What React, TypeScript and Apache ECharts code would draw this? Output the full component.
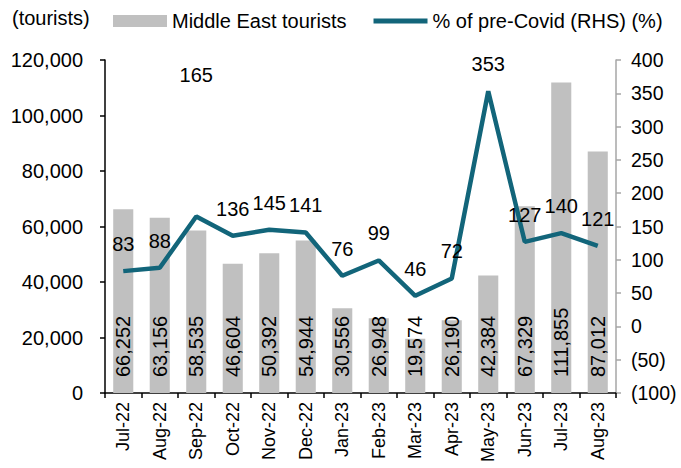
import React, { useEffect, useRef } from "react";
import * as echarts from "echarts";

const categories = ["Jul-22", "Aug-22", "Sep-22", "Oct-22", "Nov-22", "Dec-22", "Jan-23", "Feb-23", "Mar-23", "Apr-23", "May-23", "Jun-23", "Jul-23", "Aug-23"];
const tourists = [66252, 63156, 58535, 46604, 50392, 54944, 30556, 26948, 19574, 26190, 42384, 67329, 111855, 87012];
const pctPreCovid = [83, 88, 165, 136, 145, 141, 76, 99, 46, 72, 353, 127, 140, 121];

const FONT = "'Liberation Sans', Arial, sans-serif";
const LINE_COLOR = "#12657A";

export default function App() {
  const ref = useRef<HTMLDivElement>(null);
  useEffect(() => {
    document.body.style.margin = "0";
    if (!ref.current) return;
    const chart = echarts.init(ref.current, null, { renderer: "svg" });
    const fmtNum = (v: number) => v.toLocaleString("en-US");
    const fmtPct = (v: number) => (v < 0 ? "(" + Math.abs(v) + ")" : String(v));
    chart.setOption({
      animation: false,
      textStyle: { fontFamily: FONT },
      legend: {
        top: 6,
        left: 108,
        itemGap: 27,
        itemWidth: 54,
        itemHeight: 12,
        textStyle: { fontFamily: FONT, fontSize: 20, color: "#000" },
        data: [
          { name: "Middle East tourists", icon: "rect" },
          { name: "% of pre-Covid (RHS) (%)", icon: "path://M0,0h54v5h-54z", itemStyle: { color: LINE_COLOR } },
        ],
      },
      graphic: [
        {
          type: "text",
          left: 12,
          top: 8,
          style: { text: "(tourists)", font: `20px ${FONT}`, fill: "#000" },
        },
      ],
      grid: { left: 105, right: 65, top: 60, bottom: 75, containLabel: false },
      xAxis: {
        type: "category",
        data: categories,
        axisLine: { lineStyle: { color: "#000", width: 1.5 } },
        axisTick: { show: true, alignWithLabel: false, length: 5, lineStyle: { color: "#000", width: 1.5 } },
        axisLabel: { rotate: 90, fontSize: 18, color: "#000", fontFamily: FONT, margin: 9 },
      },
      yAxis: [
        {
          type: "value",
          min: 0,
          max: 120000,
          interval: 20000,
          splitLine: { show: false },
          axisLine: { show: true, lineStyle: { color: "#000", width: 1.5 } },
          axisTick: { show: true, length: 5, lineStyle: { color: "#000", width: 1.5 } },
          axisLabel: { fontSize: 20, color: "#000", fontFamily: FONT, margin: 22, formatter: fmtNum },
        },
        {
          type: "value",
          min: -100,
          max: 400,
          interval: 50,
          position: "right",
          splitLine: { show: false },
          axisLine: { show: true, lineStyle: { color: "#A6A6A6", width: 1.5 } },
          axisTick: { show: true, length: 5, lineStyle: { color: "#A6A6A6", width: 1.5 } },
          axisLabel: { fontSize: 19.5, color: "#000", fontFamily: FONT, margin: 15, formatter: fmtPct },
        },
      ],
      series: [
        {
          name: "Middle East tourists",
          type: "bar",
          data: tourists,
          barWidth: "55%",
          itemStyle: { color: "#C0C0C0" },
          label: {
            show: true,
            position: "insideBottom",
            rotate: 90,
            align: "left",
            verticalAlign: "middle",
            distance: 16,
            fontSize: 20,
            color: "#000",
            fontFamily: FONT,
            formatter: (p: any) => fmtNum(p.value),
          },
        },
        {
          name: "% of pre-Covid (RHS) (%)",
          type: "line",
          yAxisIndex: 1,
          data: pctPreCovid.map((v, i) =>
            i === 2 ? { value: v, label: { offset: [0, -114] } } : v
          ),
          symbol: "circle",
          symbolSize: 0.1,
          showSymbol: true,
          lineStyle: { color: LINE_COLOR, width: 4.5 },
          itemStyle: { color: LINE_COLOR },
          label: {
            show: true,
            position: "top",
            distance: 17,
            fontSize: 20,
            color: "#000",
            fontFamily: FONT,
          },
        },
      ],
    });
    return () => chart.dispose();
  }, []);
  return <div ref={ref} style={{ width: 681, height: 468 }} />;
}
